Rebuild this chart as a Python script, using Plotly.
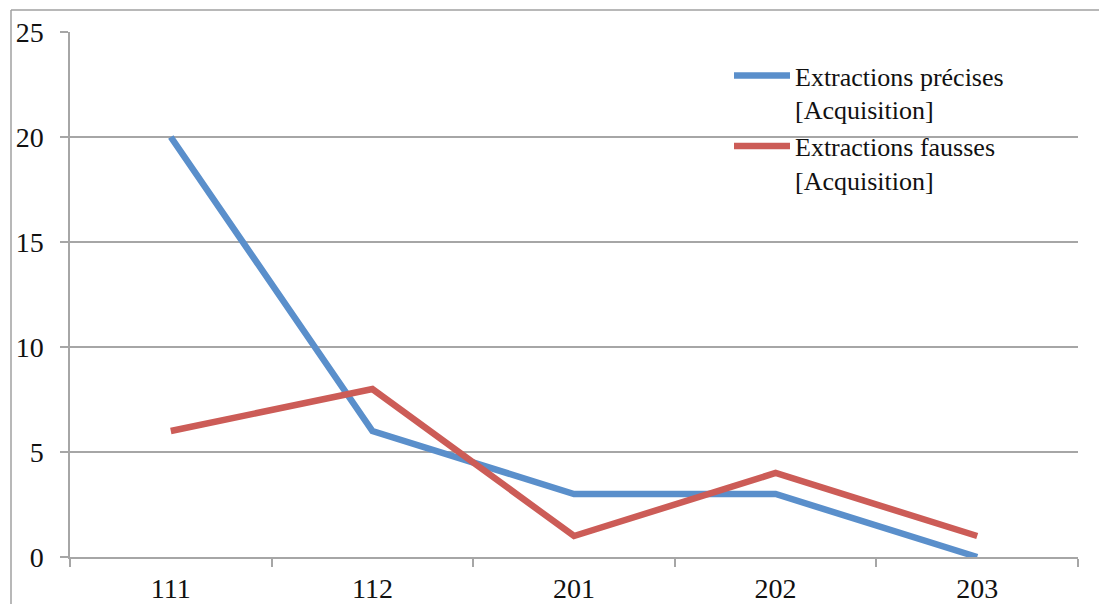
import plotly.graph_objects as go

# Categories and series values
categories = ["111", "112", "201", "202", "203"]
precises = [20, 6, 3, 3, 0]
fausses = [6, 8, 1, 4, 1]
series_names = ["Extractions précises<br>[Acquisition]", "Extractions fausses<br>[Acquisition]"]
y_ticks = [0, 5, 10, 15, 20, 25]

W, H = 1099, 604
L, R, T, B = 70, 21, 32, 47
plot_w = W - L - R
plot_h = H - T - B

FONT = "'Liberation Serif', 'Times New Roman', Times, 'DejaVu Serif', serif"
GRID = "#A6A6A6"

fig = go.Figure()
fig.add_trace(go.Scatter(
    x=categories, y=precises, mode="lines", name=series_names[0],
    line=dict(color="#5A8FCB", width=6.5),
))
fig.add_trace(go.Scatter(
    x=categories, y=fausses, mode="lines", name=series_names[1],
    line=dict(color="#CC5C57", width=6.5),
))

# outer chart frame (left and top edges)
fx0 = (11 - L) / plot_w
fy1 = (H - B - 10) / plot_h
fig.add_shape(type="line", xref="paper", yref="paper",
              x0=fx0, x1=(W + 5 - L) / plot_w, y0=fy1, y1=fy1,
              line=dict(color="#A0A0A0", width=1.5))
fig.add_shape(type="line", xref="paper", yref="paper",
              x0=fx0, x1=fx0, y0=fy1, y1=-(B + 5) / plot_h,
              line=dict(color="#A0A0A0", width=1.5))

fig.update_layout(
    width=W, height=H,
    margin=dict(l=L, r=R, t=T, b=B, autoexpand=False),
    paper_bgcolor="white", plot_bgcolor="white",
    font=dict(family=FONT, size=28, color="#111111"),
    showlegend=True,
    legend=dict(
        x=(729 - L) / plot_w, y=(H - B - 52) / plot_h,
        xanchor="left", yanchor="top",
        bgcolor="rgba(0,0,0,0)",
        font=dict(family=FONT, size=26),
        valign="top",
        itemwidth=56,
    ),
    xaxis=dict(
        type="category", range=[-0.5, 4.5], automargin=False,
        showgrid=False, showline=True, linecolor=GRID, linewidth=1.5,
        ticks="outside", tickson="boundaries", ticklen=8,
        tickcolor=GRID, tickwidth=1.5,
        ticklabelstandoff=6,
        tickfont=dict(family=FONT, size=28),
    ),
    yaxis=dict(
        range=[0, 25], tickvals=y_ticks, automargin=False,
        showgrid=True, gridcolor=GRID, gridwidth=1.5,
        showline=True, linecolor=GRID, linewidth=1.5,
        ticks="outside", ticklen=8, tickcolor=GRID, tickwidth=1.5,
        ticklabelstandoff=11,
        tickfont=dict(family=FONT, size=28),
        zeroline=False,
    ),
)

fig.write_html("out.html")
